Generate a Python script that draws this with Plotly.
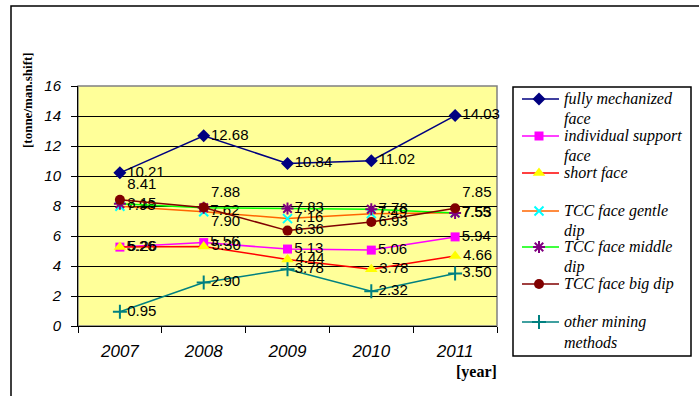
import plotly.graph_objects as go

years = ["2007", "2008", "2009", "2010", "2011"]
fully_mechanized = [10.21, 12.68, 10.84, 11.02, 14.03]
individual_support = [5.26, 5.56, 5.13, 5.06, 5.94]
short_face = [5.26, 5.30, 4.44, 3.78, 4.66]
tcc_gentle = [7.98, 7.62, 7.16, 7.49, 7.55]
tcc_middle = [8.15, 7.88, 7.83, 7.78, 7.53]
tcc_big = [8.41, 7.90, 6.36, 6.93, 7.85]
other_methods = [0.95, 2.90, 3.78, 2.32, 3.50]
legend_labels = ["fully mechanized<br>face", "individual support<br>face", "short face",
                 "TCC face gentle<br>dip", "TCC face middle<br>dip", "TCC face big dip",
                 "other mining<br>methods"]

series = [
    (fully_mechanized, "#000080", dict(symbol="diamond", size=10, color="#000080"), None),
    (individual_support, "#FF00FF", dict(symbol="square", size=9, color="#FF00FF"), None),
    (short_face, "#FF0000", dict(symbol="triangle-up", size=11, color="#FFFF00"), None),
    (tcc_gentle, "#FF6600", dict(symbol="x-thin-open", size=9, color="#00FFFF", line=dict(width=2, color="#00FFFF")), None),
    (tcc_middle, "#00FF00", dict(symbol="asterisk-open", size=10, color="#800080", line=dict(width=2, color="#800080")),
     ["middle right", "top right", "middle right", "middle right", "middle right"]),
    (tcc_big, "#800000", dict(symbol="circle", size=10, color="#800000"),
     ["top right", "bottom right", "middle right", "middle right", "top right"]),
    (other_methods, "#008080", dict(symbol="cross-thin-open", size=10, color="#008080", line=dict(width=2, color="#008080")), None),
]

SERIF = "Liberation Serif"
W, H = 699, 396
ML, MT = 10, 5
PW, PH = W - ML - 5, H - MT


def px_x(p):
    return (p - ML) / PW


def px_y(p):
    return (H - p) / PH


fig = go.Figure()
for (vals, lc, mk, tp), lab in zip(series, legend_labels):
    fig.add_trace(go.Scatter(
        x=years, y=vals, name=lab, mode="lines+markers+text",
        line=dict(color=lc, width=1.5), marker=mk,
        text=[f"{v:.2f}" for v in vals],
        textposition=tp if tp else "middle right",
        textfont=dict(family="Arial", size=15, color="black"),
        cliponaxis=False, showlegend=False,
    ))

# custom legend drawn on a helper axis (units = pixels inside legend box)
row_y = [12, 49, 86, 124, 160, 197, 235]
annotations = []
for (vals, lc, mk, tp), lab, ry in zip(series, legend_labels, row_y):
    fig.add_trace(go.Scatter(
        x=[9, 26, 46], y=[ry, ry, ry], mode="lines+markers",
        line=dict(color=lc, width=1.5), marker=mk,
        selectedpoints=[1], unselected=dict(marker=dict(opacity=0)),
        xaxis="x2", yaxis="y2", showlegend=False, hoverinfo="skip",
    ))
    for k, part in enumerate(lab.split("<br>")):
        annotations.append(dict(
            text=part, xref="x2", yref="y2", x=49, y=ry + 20 * k, xanchor="left", yanchor="middle",
            align="left", showarrow=False,
            font=dict(family=SERIF, size=16, color="black", style="italic"),
        ))

annotations += [
    dict(text="<b>[tonne/man.shift]</b>", xref="paper", yref="paper", x=px_x(28), y=px_y(100),
         xanchor="center", yanchor="middle", textangle=-90, showarrow=False,
         font=dict(family=SERIF, size=13, color="black")),
    dict(text="<b>[year]</b>", xref="paper", yref="paper", x=px_x(476), y=px_y(372),
         xanchor="center", yanchor="middle", showarrow=False,
         font=dict(family=SERIF, size=16, color="black")),
]

fig.update_layout(
    width=W, height=H,
    margin=dict(l=ML, r=5, t=MT, b=0, pad=0, autoexpand=False),
    paper_bgcolor="white", plot_bgcolor="white",
    showlegend=False,
    xaxis=dict(domain=[px_x(78), px_x(497)], type="category", range=[-0.5, 4.5], tickson="boundaries",
               ticks="outside", ticklen=6, tickcolor="black", showline=True,
               linecolor="black", showgrid=False, ticklabelstandoff=10, anchor="y", automargin=False,
               tickfont=dict(family="Arial", size=17, color="black", style="italic")),
    yaxis=dict(domain=[px_y(326), px_y(86)], range=[0, 16], dtick=2, ticks="outside", ticklen=6,
               tickcolor="black", anchor="x", automargin=False,
               showline=True, linecolor="black", showgrid=True, gridcolor="black",
               gridwidth=1, zeroline=False, ticklabelstandoff=7,
               tickfont=dict(family="Arial", size=15, color="black", style="italic")),
    xaxis2=dict(domain=[px_x(513), px_x(691)], range=[0, 178], visible=False, anchor="y2", fixedrange=True),
    yaxis2=dict(domain=[px_y(356), px_y(87)], range=[269, 0], visible=False, anchor="x2", fixedrange=True),
    shapes=[
        dict(type="rect", xref="x domain", yref="y domain", x0=0, x1=1, y0=0, y1=1,
             fillcolor="#FFFF99", line=dict(color="#808080", width=1.5), layer="below"),
        dict(type="rect", xref="x2 domain", yref="y2 domain", x0=0, x1=1, y0=0, y1=1,
             line=dict(color="black", width=1.5), layer="below"),
        dict(type="path", xref="paper", yref="paper",
             path=f"M {px_x(11)},{px_y(420)} L {px_x(11)},{px_y(6)} L {px_x(720)},{px_y(6)}",
             line=dict(color="black", width=1.5)),
    ],
    annotations=annotations,
)
fig.write_html("out.html")
